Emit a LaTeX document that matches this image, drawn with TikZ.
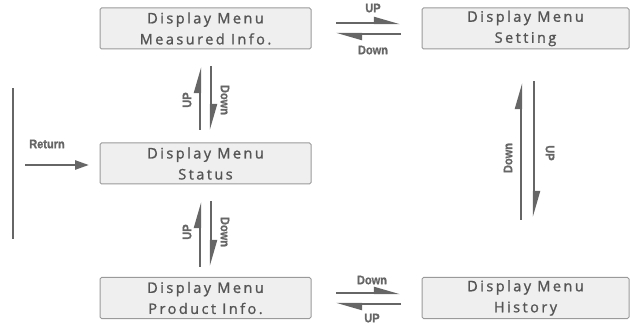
\documentclass[tikz,border=0pt]{standalone}
\usepackage{fontspec}
\usetikzlibrary{arrows.meta}
\newfontfamily\boxfont{Open Sans}[LetterSpace=17,FakeBold=1.2]
\newfontfamily\lblfont{Liberation Sans}[FakeStretch=0.88,FakeBold=1]
\definecolor{boxfill}{HTML}{EFEFEF}
\definecolor{boxline}{HTML}{9A9A9A}
\definecolor{boxtext}{HTML}{555555}
\definecolor{arr}{HTML}{666666}
\begin{document}
\begin{tikzpicture}[x=1pt,y=-1pt,
  menubox/.style={draw=boxline,fill=boxfill,line width=1pt,rounded corners=1.5pt,
    minimum height=41pt,inner sep=0pt,align=center,text=boxtext,
    font=\boxfont\fontsize{14.5}{21}\selectfont},
  harp/.style={draw=arr,line width=2.2pt,-{Triangle[harpoon,length=22pt,width=12pt]}},
  lbl/.style={text=arr,inner sep=0pt,font=\lblfont\bfseries\fontsize{12.5}{12.5}\selectfont}]
\useasboundingbox (0,0) rectangle (630,326);
% boxes
\node[menubox,minimum width=211pt] (meas) at (205.5,28.5) {Display Menu\\Measured Info.};
\node[menubox,minimum width=207pt] (set) at (525.5,28.5) {Display Menu\\Setting};
\node[menubox,minimum width=211pt] (stat) at (205.5,163.5) {Display Menu\\Status};
\node[menubox,minimum width=211pt] (prod) at (205.5,298) {Display Menu\\Product Info.};
\node[menubox,minimum width=207pt] (hist) at (525.5,298) {Display Menu\\History};
% coordinates
\coordinate (t1a) at (336,23); \coordinate (t1b) at (400,23);
\coordinate (t2a) at (401,34); \coordinate (t2b) at (336,34);
\coordinate (l1a) at (200,130); \coordinate (l1b) at (200,67);
\coordinate (l2a) at (211,66); \coordinate (l2b) at (211,130);
\coordinate (l3a) at (200,267); \coordinate (l3b) at (200,202);
\coordinate (l4a) at (211,201); \coordinate (l4b) at (211,266);
\coordinate (r1a) at (521,220); \coordinate (r1b) at (521,83);
\coordinate (r2a) at (534,81); \coordinate (r2b) at (534,217);
\coordinate (b1a) at (336,293); \coordinate (b1b) at (400,293);
\coordinate (b2a) at (401,304); \coordinate (b2b) at (336,304);
\coordinate (rta) at (13,88); \coordinate (rtb) at (13,239);
\coordinate (ra) at (25,165); \coordinate (rb) at (89,165);
% arrows
\draw[harp] (t1a) -- (t1b);
\draw[harp] (t2a) -- (t2b);
\draw[harp] (l1a) -- (l1b);
\draw[harp] (l2a) -- (l2b);
\draw[harp] (l3a) -- (l3b);
\draw[harp] (l4a) -- (l4b);
\draw[harp] (r1a) -- (r1b);
\draw[harp] (r2a) -- (r2b);
\draw[harp] (b1a) -- (b1b);
\draw[harp] (b2a) -- (b2b);
\draw[draw=arr,line width=2.5pt] (rta) -- (rtb);
\draw[draw=arr,line width=2.5pt,-{Triangle[length=14pt,width=9pt]}] (ra) -- (rb);
% labels
\node[lbl] (tu) at (373,8) {UP};
\node[lbl] (td) at (373,50) {Down};
\node[lbl,rotate=90] (lu1) at (187,100) {UP};
\node[lbl,rotate=-90] (ld1) at (225,100) {Down};
\node[lbl,rotate=90] (lu2) at (187,232) {UP};
\node[lbl,rotate=-90] (ld2) at (225,232) {Down};
\node[lbl,rotate=90] (rd) at (508,158) {Down};
\node[lbl,rotate=-90] (ru) at (550,153) {UP};
\node[lbl] (bd) at (372,280) {Down};
\node[lbl] (bu) at (372,318) {UP};
\node[lbl] (ret) at (47,144) {Return};
\end{tikzpicture}
\end{document}
